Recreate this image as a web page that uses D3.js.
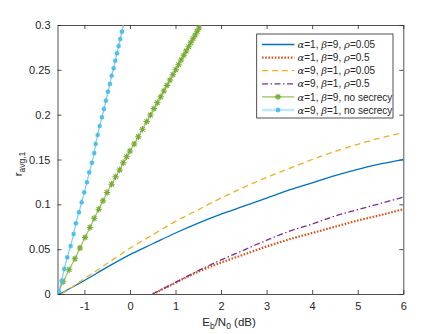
<!DOCTYPE html>
<html>
<head>
<meta charset="utf-8">
<script src="https://cdn.jsdelivr.net/npm/d3@7"></script>
<style>
  body { margin: 0; background: #fff; }
  svg { font-family: "Liberation Sans", Arial, sans-serif; }
</style>
</head>
<body>
<script>
// x axis: Eb/N0 in dB, y axis: r_avg,1
var xTicks = [-1, 0, 1, 2, 3, 4, 5, 6];
var yTicks = [0, 0.05, 0.1, 0.15, 0.2, 0.25, 0.3];
var yTickLabels = ["0", "0.05", "0.1", "0.15", "0.2", "0.25", "0.3"];

// alpha=1, beta=9, rho=0.05
var blueX = [-1.54, -1, -0.5, 0, 0.5, 1, 1.5, 2, 2.5, 3, 3.5, 4, 4.5, 5, 5.5, 6];
var blueY = [0, 0.015, 0.030, 0.044, 0.056, 0.068, 0.079, 0.089, 0.098, 0.107, 0.116, 0.124, 0.132, 0.139, 0.145, 0.150];
// alpha=1, beta=9, rho=0.5
var redX = [0.5, 1, 1.5, 2, 2.5, 3, 3.5, 4, 4.5, 5, 5.5, 6];
var redY = [0, 0.0125, 0.025, 0.035, 0.044, 0.053, 0.061, 0.068, 0.075, 0.082, 0.088, 0.0945];
// alpha=9, beta=1, rho=0.05
var orangeX = [-1.5, -1, -0.5, 0, 0.5, 1, 1.5, 2, 2.5, 3, 3.5, 4, 4.5, 5, 5.5, 6];
var orangeY = [0, 0.017, 0.034, 0.051, 0.066, 0.081, 0.094, 0.107, 0.119, 0.130, 0.140, 0.150, 0.159, 0.167, 0.174, 0.180];
// alpha=9, beta=1, rho=0.5
var purpleX = [0.5, 1, 1.5, 2, 2.5, 3, 3.5, 4, 4.5, 5, 5.5, 6];
var purpleY = [0, 0.013, 0.026, 0.038, 0.049, 0.060, 0.070, 0.078, 0.087, 0.094, 0.101, 0.108];
// alpha=1, beta=9, no secrecy
var greenX = [-1.59, -1.467, -1.335, -1.207, -1.098, -0.984, -0.878, -0.784, -0.685, -0.593, -0.503, -0.402,
  -0.314, -0.226, -0.147, -0.072, 0.0, 0.094, 0.184, 0.274, 0.368, 0.450, 0.527, 0.601, 0.675, 0.744,
  0.813, 0.878, 0.943, 1.005, 1.066, 1.123, 1.180, 1.234, 1.287, 1.336, 1.386, 1.431, 1.475, 1.516, 1.557, 1.595];
var greenY = [0, 0.0137, 0.0271, 0.0393, 0.0513, 0.0632, 0.0742, 0.0844, 0.0946, 0.1040, 0.1132, 0.1224,
  0.1308, 0.1383, 0.1464, 0.1531, 0.1595, 0.1673, 0.1754, 0.1837, 0.1922, 0.1996, 0.2067, 0.2133, 0.2200, 0.2264,
  0.2327, 0.2386, 0.2446, 0.2501, 0.2557, 0.2610, 0.2662, 0.2710, 0.2758, 0.2802, 0.2847, 0.2888, 0.2930, 0.2967, 0.3003, 0.3035];
// alpha=9, beta=1, no secrecy
var cyanX = [-1.59, -1.559, -1.499, -1.442, -1.376, -1.302, -1.236, -1.186, -1.120, -1.060, -1.003, -0.944, -0.894,
  -0.834, -0.784, -0.753, -0.709, -0.665, -0.615, -0.571, -0.527, -0.483, -0.439, -0.402, -0.358, -0.323,
  -0.285, -0.248, -0.213, -0.176, -0.140];
var cyanY = [0, 0.0026, 0.0148, 0.0279, 0.0409, 0.0535, 0.0669, 0.0788, 0.0911, 0.1023, 0.1134, 0.1246, 0.1357,
  0.1464, 0.1572, 0.1673, 0.1773, 0.1874, 0.1971, 0.2063, 0.2156, 0.2256, 0.2342, 0.2434, 0.2517, 0.2602,
  0.2684, 0.2766, 0.2844, 0.2925, 0.3005];

var legendLabels = [
  [["α", 1], ["=1, ", 0], ["β", 1], ["=9, ", 0], ["ρ", 1], ["=0.05", 0]],
  [["α", 1], ["=1, ", 0], ["β", 1], ["=9, ", 0], ["ρ", 1], ["=0.5", 0]],
  [["α", 1], ["=9, ", 0], ["β", 1], ["=1, ", 0], ["ρ", 1], ["=0.05", 0]],
  [["α", 1], ["=9, ", 0], ["β", 1], ["=1, ", 0], ["ρ", 1], ["=0.5", 0]],
  [["α", 1], ["=1, ", 0], ["β", 1], ["=9, no secrecy", 0]],
  [["α", 1], ["=9, ", 0], ["β", 1], ["=1, no secrecy", 0]]
];

var W = 445, H = 334;
var pLeft = 57.5, pRight = 403.3, pTop = 25, pBottom = 294;

var svg = d3.select("body").append("svg")
  .attr("width", W)
  .attr("height", H);

var x = d3.scaleLinear().domain([-1.59, 6]).range([pLeft, pRight]);
var y = d3.scaleLinear().domain([0, 0.3]).range([pBottom, pTop]);

svg.append("defs").append("clipPath").attr("id", "plotclip")
  .append("rect")
  .attr("x", pLeft).attr("y", pTop)
  .attr("width", pRight - pLeft).attr("height", pBottom - pTop);

var axisColor = "#262626";

// axes (ticks inside, mirrored on top and right)
var xAxis = svg.append("g").attr("transform", "translate(0," + pBottom + ")")
  .call(d3.axisBottom(x).tickValues(xTicks).tickSizeInner(-4).tickSizeOuter(0).tickPadding(8));
var xTop = svg.append("g").attr("transform", "translate(0," + pTop + ")")
  .call(d3.axisTop(x).tickValues(xTicks).tickSizeInner(-4).tickSizeOuter(0).tickFormat(""));
var yAxis = svg.append("g").attr("transform", "translate(" + pLeft + ",0)")
  .call(d3.axisLeft(y).tickValues(yTicks).tickSizeInner(-4).tickSizeOuter(0).tickPadding(7)
    .tickFormat(function (d, i) { return yTickLabels[i]; }));
var yRight = svg.append("g").attr("transform", "translate(" + pRight + ",0)")
  .call(d3.axisRight(y).tickValues(yTicks).tickSizeInner(-4).tickSizeOuter(0).tickFormat(""));

[xAxis, xTop, yAxis, yRight].forEach(function (g) {
  g.selectAll("path.domain").attr("stroke", axisColor).attr("stroke-width", 0.8);
  g.selectAll(".tick line").attr("stroke", axisColor).attr("stroke-width", 0.8);
  g.selectAll(".tick text").attr("fill", axisColor).attr("font-size", 11)
    .attr("font-family", "Liberation Sans, Arial, sans-serif");
});
xAxis.selectAll(".tick text").filter(function (d) { return d < 0; }).text(function (d) { return "-" + Math.abs(d); });

var plot = svg.append("g").attr("clip-path", "url(#plotclip)");

function pts(xs, ys) {
  return xs.map(function (v, i) { return [v, ys[i]]; });
}

var smooth = d3.line()
  .x(function (d) { return x(d[0]); })
  .y(function (d) { return y(d[1]); })
  .curve(d3.curveMonotoneX);
var straight = d3.line()
  .x(function (d) { return x(d[0]); })
  .y(function (d) { return y(d[1]); });

var series = [
  { data: pts(blueX, blueY), color: "#0072BD", width: 1.3, dash: null },
  { data: pts(redX, redY), color: "#D95319", width: 2.2, dash: "1.6,1.6" },
  { data: pts(orangeX, orangeY), color: "#EDB120", width: 1.3, dash: "6,4" },
  { data: pts(purpleX, purpleY), color: "#7E2F8E", width: 1.3, dash: "6,2.5,1.5,2.5" },
  { data: pts(greenX, greenY), color: "#77AC30", width: 1.2, dash: null, marker: 3.2, markers: true },
  { data: pts(cyanX, cyanY), color: "#4DBEEE", width: 1.2, dash: null, marker: 2.4, markers: true }
];

// draw order: marker series first, then curves, purple above red
var order = [4, 5, 0, 2, 1, 3];

function asterisk(g, cx, cy, s, color) {
  var d = s * 0.7071;
  var p = "M" + (cx - s) + "," + cy + "L" + (cx + s) + "," + cy +
    "M" + cx + "," + (cy - s) + "L" + cx + "," + (cy + s) +
    "M" + (cx - d) + "," + (cy - d) + "L" + (cx + d) + "," + (cy + d) +
    "M" + (cx - d) + "," + (cy + d) + "L" + (cx + d) + "," + (cy - d);
  g.append("path").attr("d", p).attr("stroke", color).attr("stroke-width", 1.1).attr("fill", "none");
}

order.forEach(function (k) {
  var s = series[k];
  plot.append("path")
    .datum(s.data)
    .attr("d", s.markers ? straight : smooth)
    .attr("fill", "none")
    .attr("stroke", s.color)
    .attr("stroke-width", s.width)
    .attr("stroke-opacity", s.markers ? 0.75 : 1)
    .attr("stroke-dasharray", s.dash);
  if (s.markers) {
    var mg = plot.append("g");
    s.data.filter(function (d) { return d[1] <= 0.3; }).forEach(function (d) {
      if (k === 5) {
        mg.append("circle").attr("cx", x(d[0])).attr("cy", y(d[1])).attr("r", 1.8).attr("fill", s.color);
      }
      asterisk(mg, x(d[0]), y(d[1]), s.marker, s.color);
    });
  }
});

// legend
var lg = svg.append("g");
lg.append("rect")
  .attr("x", 256.7).attr("y", 34).attr("width", 136.3).attr("height", 84)
  .attr("fill", "#fff").attr("stroke", axisColor).attr("stroke-width", 0.8);

legendLabels.forEach(function (parts, i) {
  var s = series[i];
  var ly = 44.5 + 13.1 * i;
  lg.append("line")
    .attr("x1", 262).attr("x2", 294.3).attr("y1", ly).attr("y2", ly)
    .attr("stroke", s.color)
    .attr("stroke-width", s.markers ? (i === 5 ? 2.5 : 1.2) : s.width)
    .attr("stroke-opacity", s.markers ? (i === 5 ? 0.35 : 0.75) : 1)
    .attr("stroke-dasharray", s.dash);
  if (s.markers) {
    if (i === 5) {
      lg.append("circle").attr("cx", 278).attr("cy", ly).attr("r", 1.9).attr("fill", s.color);
    }
    asterisk(lg, 278, ly, s.marker, s.color);
  }
  var t = lg.append("text")
    .attr("x", 297.5).attr("y", ly + 3.6)
    .attr("font-size", 10).attr("fill", axisColor);
  parts.forEach(function (p) {
    var ts = t.append("tspan").text(p[0]);
    if (p[1]) {
      ts.attr("font-family", "DejaVu Serif, serif").attr("font-style", "italic").attr("font-size", 10);
    }
  });
});

// axis labels
var xl = svg.append("text")
  .attr("x", 229).attr("y", 326)
  .attr("text-anchor", "middle")
  .attr("font-size", 11.5).attr("fill", axisColor);
xl.append("tspan").text("E");
xl.append("tspan").attr("font-size", 8.5).attr("dy", 3).text("b");
xl.append("tspan").attr("dy", -3).text("/N");
xl.append("tspan").attr("font-size", 8.5).attr("dy", 3).text("0");
xl.append("tspan").attr("dy", -3).text(" (dB)");

var yl = svg.append("text")
  .attr("transform", "translate(22,164) rotate(-90)")
  .attr("text-anchor", "middle")
  .attr("font-size", 11.5).attr("fill", axisColor);
yl.append("tspan").text("r");
yl.append("tspan").attr("font-size", 8.5).attr("dy", 3).text("avg,1");
</script>
</body>
</html>
